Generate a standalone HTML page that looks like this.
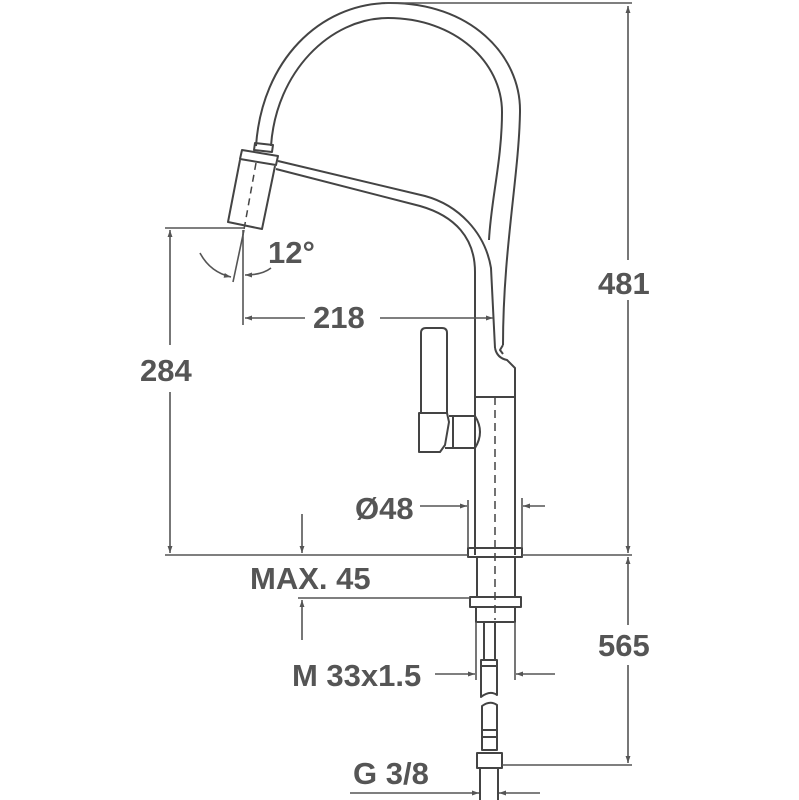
<!DOCTYPE html>
<html><head><style>
html,body{margin:0;padding:0;background:#fff}
svg{display:block}
text{font-family:"Liberation Sans",sans-serif;font-weight:bold;fill:#555;font-size:31px}
</style></head><body>
<svg width="799" height="800" viewBox="0 0 799 800" xmlns="http://www.w3.org/2000/svg">
<defs>
<marker id="a" viewBox="0 0 10 10" refX="10" refY="5" markerWidth="10" markerHeight="7" orient="auto-start-reverse" markerUnits="userSpaceOnUse"><path d="M0,1.5 L10,5 L0,8.5 Z" fill="#555"/></marker>
</defs>
<g fill="none" stroke="#444" stroke-width="2" stroke-linejoin="round">
<!-- hose -->
<path d="M256,146 C262,60 320,4 388,3 C470,2 521,55 520,112 C519,175 503,250 503,345"/>
<path d="M271,146 C276,72 330,18 388,18 C455,18 502,62 502,112 C502,160 491,200 489,240"/>
<path d="M503,345 L500,350 L503,354"/>
<!-- nozzle -->
<path d="M255,143 L273,145 L272,152 L254,150Z"/>
<path d="M242,150 L278,156 L276,165 L240,159Z"/>
<path d="M240,160 L228,222 L262,229 L275,166"/>
<path d="M256,163 L243,235" stroke-dasharray="7,5" stroke-width="1.5"/>
<!-- spout bar -->
<path d="M278,161 L425,196 C458,205 485,232 491,268 L495,348"/>
<path d="M276,169 L420,206 C455,216 475,238 475,272 L475,555"/>
<!-- body -->
<path d="M495,348 Q497,358 507,360 L515,368 L515,555"/>
<path d="M475,397 L515,397"/>
<path d="M495,397 L495,620" stroke-dasharray="8,5" stroke-width="1.5"/>
<!-- handle -->
<path d="M421,413 L421,333 Q421,328 426,328 L442,328 Q447,328 447,333 L447,413"/>
<path d="M419,413 L447,413 L449,422 L445,445 L440,452 L419,452 Z"/>
<path d="M449,416 L475,416 Q485,432 475,448 L445,448"/>
<path d="M453,416 L453,448"/>
<!-- base -->
<path d="M468,548 L522,548 L522,557 L468,557 Z"/>
<path d="M477,557 L477,597 M515,557 L515,597"/>
<path d="M470,597 L521,597 L521,607 L470,607 Z"/>
<path d="M476,607 L476,622 L515,622 L515,607"/>
<path d="M484,622 L484,660 M495,622 L495,660"/>
<path d="M481,660 L497,660 L497,695 Q490,690 481,697 Z"/>
<path d="M481,666 L497,666"/>
<path d="M482,706 Q490,700 497,705 L497,750 L482,750 Z"/>
<path d="M482,730 L497,730 M482,737 L497,737"/>
<path d="M477,753 L502,753 L502,768 L477,768 Z"/>
<path d="M480,768 L480,800 M498,768 L498,800"/>
</g>
<g fill="none" stroke="#555" stroke-width="1.6">
<path d="M385,3 L632,3"/>
<path d="M628,260 L628,6" marker-end="url(#a)"/>
<path d="M628,300 L628,553" marker-end="url(#a)"/>
<path d="M522,555 L632,555"/>
<path d="M165,555 L468,555"/>
<path d="M628,625 L628,557" marker-end="url(#a)"/>
<path d="M628,665 L628,763" marker-end="url(#a)"/>
<path d="M502,765 L632,765"/>
<path d="M165,228 L245,228"/>
<path d="M170,345 L170,230" marker-end="url(#a)"/>
<path d="M170,392 L170,553" marker-end="url(#a)"/>
<path d="M243,230 L243,325"/>
<path d="M305,318 L245,318" marker-end="url(#a)"/>
<path d="M380,318 L493,318" marker-end="url(#a)"/>
<path d="M244,230 L233,282"/>
<path d="M200,253 Q210,272 231,277" marker-end="url(#a)"/>
<path d="M271,268 Q262,275 245,275" marker-end="url(#a)"/>
<path d="M468,500 L468,548 M522,498 L522,548"/>
<path d="M420,506 L467,506" marker-end="url(#a)"/>
<path d="M545,506 L523,506" marker-end="url(#a)"/>
<path d="M302,514 L302,553" marker-end="url(#a)"/>
<path d="M298,598 L470,598"/>
<path d="M302,640 L302,600" marker-end="url(#a)"/>
<path d="M476,622 L476,680 M515,622 L515,680"/>
<path d="M435,674 L475,674" marker-end="url(#a)"/>
<path d="M555,674 L516,674" marker-end="url(#a)"/>
<path d="M350,793 L479,793" marker-end="url(#a)"/>
<path d="M540,793 L499,793" marker-end="url(#a)"/>
</g>
<text x="598" y="294">481</text>
<text x="598" y="656">565</text>
<text x="140" y="381">284</text>
<text x="313" y="328">218</text>
<text x="268" y="263">12°</text>
<text x="355" y="519">Ø48</text>
<text x="250" y="589">MAX. 45</text>
<text x="292" y="686">M 33x1.5</text>
<text x="353" y="784">G 3/8</text>
</svg>
</body></html>
